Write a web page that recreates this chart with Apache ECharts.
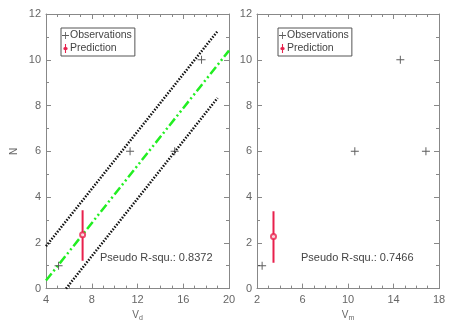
<!DOCTYPE html>
<html><head><meta charset="utf-8">
<script src="https://cdn.jsdelivr.net/npm/echarts@6/dist/echarts.min.js"></script>
<style>html,body{margin:0;padding:0;background:#fff}#c{width:458px;height:327px}</style>
</head><body><div id="c"></div>
<script>
// Left panel (V_d)
const obsLeft = [[5.1, 1], [11.35, 6], [15.25, 6], [17.6, 10]];
const predLeft = [7.2, 2.35];
const errLeft = [1.22, 3.42];
const fitLine = [[4, 0.35], [20, 10.4]];
const upperBand = [[4, 1.85], [19, 11.25]];
const lowerBand = [[5.75, 0], [19, 8.33]];
const r2Left = '0.8372';
// Right panel (V_m)
const obsRight = [[2.45, 1], [10.6, 6], [14.6, 10], [16.85, 6]];
const predRight = [3.45, 2.28];
const errRight = [1.13, 3.38];
const r2Right = '0.7466';
// Axis ranges
const xLeftRange = [4, 20, 4];
const xRightRange = [2, 18, 4];
const yRange = [0, 12, 2];

const FONT = 'Liberation Sans';
const GRAY = '#666';
const AX = '#888';
const RED = '#e8204c';
const plus = 'path://M4.4,0H5.6V4.4H10V5.6H5.6V10H4.4V5.6H0V4.4H4.4Z';

const chart = echarts.init(document.getElementById('c'));
const grids = [
  {left: 46, top: 14, width: 183, height: 280},
  {left: 257, top: 14, width: 182, height: 280}
];
function xAx(gi, r, sub, main) {
  return {
    type: 'value', gridIndex: gi, min: r[0], max: r[1], interval: r[2],
    position: main ? 'bottom' : 'top',
    name: main ? '{a|V}{s|' + sub + '}' : '', nameLocation: 'middle', nameGap: 17,
    nameTextStyle: {rich: {a: {fontFamily: FONT, fontSize: 10, color: GRAY}, s: {fontFamily: FONT, fontSize: 7, color: GRAY, verticalAlign: 'bottom', padding: [6, 0, 0, 0]}}},
    axisLine: {show: true, onZero: false, lineStyle: {color: AX, width: 1}},
    axisTick: {show: true, inside: true, length: 5, lineStyle: {color: AX}},
    minorTick: {show: true, splitNumber: 4, length: 3, lineStyle: {color: AX}},
    axisLabel: {show: main, fontFamily: FONT, fontSize: 11, color: GRAY, margin: 6},
    splitLine: {show: false}
  };
}
function yAx(gi, main, name) {
  return {
    type: 'value', gridIndex: gi, min: yRange[0], max: yRange[1], interval: yRange[2],
    position: main ? 'left' : 'right',
    name: name || '', nameLocation: 'middle', nameGap: 27,
    nameTextStyle: {fontFamily: FONT, fontSize: 10, color: GRAY},
    axisLine: {show: true, onZero: false, lineStyle: {color: AX, width: 1}},
    axisTick: {show: true, inside: true, length: 5, lineStyle: {color: AX}},
    minorTick: {show: true, splitNumber: 2, length: 3, lineStyle: {color: AX}},
    axisLabel: {show: main, fontFamily: FONT, fontSize: 11, color: GRAY, margin: 5},
    splitLine: {show: false}
  };
}

function panelSeries(gi, obs, pred, err) {
  const xi = gi * 2, yi = gi * 2;
  return [
    {name: 'Observations', type: 'scatter', xAxisIndex: xi, yAxisIndex: yi, data: obs,
     symbol: plus, symbolSize: 8, itemStyle: {color: '#333'}, z: 5},
    {name: 'Prediction', type: 'line', xAxisIndex: xi, yAxisIndex: yi,
     data: [[pred[0], err[0]], [pred[0], err[1]]], showSymbol: false, symbol: 'none',
     lineStyle: {color: RED, width: 2}, itemStyle: {color: RED}, z: 4},
    {name: 'Prediction', type: 'scatter', xAxisIndex: xi, yAxisIndex: yi, data: [pred],
     symbol: 'emptyCircle', symbolSize: 5, itemStyle: {color: RED, borderColor: RED, borderWidth: 1.3}, z: 6}
  ];
}

const legendBase = {
  orient: 'vertical', itemWidth: 7, itemHeight: 9, itemGap: 2,
  padding: [2, 3, 2, 1], borderColor: '#555', borderWidth: 1, backgroundColor: '#fff',
  textStyle: {fontFamily: FONT, fontSize: 10.5, color: '#444', padding: [0, 0, 0, -4]},
  selectedMode: false,
  data: [
    {name: 'Observations', icon: plus, itemStyle: {color: '#333'}},
    {name: 'Prediction', icon: 'path://M4.4,0H5.6V3.2A1.8,1.8 0 0 1 5.6,6.8V10H4.4V6.8A1.8,1.8 0 0 1 4.4,3.2Z', itemStyle: {color: RED}}
  ]
};

chart.setOption({
  animation: false,
  grid: grids,
  xAxis: [xAx(0, xLeftRange, 'd', true), xAx(0, xLeftRange, 'd', false),
          xAx(1, xRightRange, 'm', true), xAx(1, xRightRange, 'm', false)],
  yAxis: [yAx(0, true, 'N'), yAx(0, false), yAx(1, true), yAx(1, false)],
  legend: [
    Object.assign({}, legendBase, {left: 61, top: 28}),
    Object.assign({}, legendBase, {left: 278, top: 28})
  ],
  series: [
    {name: 'fit', type: 'line', xAxisIndex: 0, yAxisIndex: 0, data: fitLine, symbol: 'none',
     lineStyle: {color: '#22ee22', width: 2.5, type: [9, 3, 2, 3, 2, 3]}, z: 3},
    {name: 'upper', type: 'line', xAxisIndex: 0, yAxisIndex: 0, data: upperBand, symbol: 'none',
     lineStyle: {color: '#111', width: 2.5, type: [1.5, 1.5]}, z: 3},
    {name: 'lower', type: 'line', xAxisIndex: 0, yAxisIndex: 0, data: lowerBand, symbol: 'none',
     lineStyle: {color: '#111', width: 2.5, type: [1.5, 1.5]}, z: 3},
    ...panelSeries(0, obsLeft, predLeft, errLeft),
    ...panelSeries(1, obsRight, predRight, errRight)
  ],
  graphic: [
    {type: 'text', left: 100, top: 252, style: {text: 'Pseudo R-squ.: ' + r2Left, font: '11px "' + FONT + '"', fill: '#444'}},
    {type: 'text', left: 301, top: 252, style: {text: 'Pseudo R-squ.: ' + r2Right, font: '11px "' + FONT + '"', fill: '#444'}}
  ]
});
</script></body></html>
